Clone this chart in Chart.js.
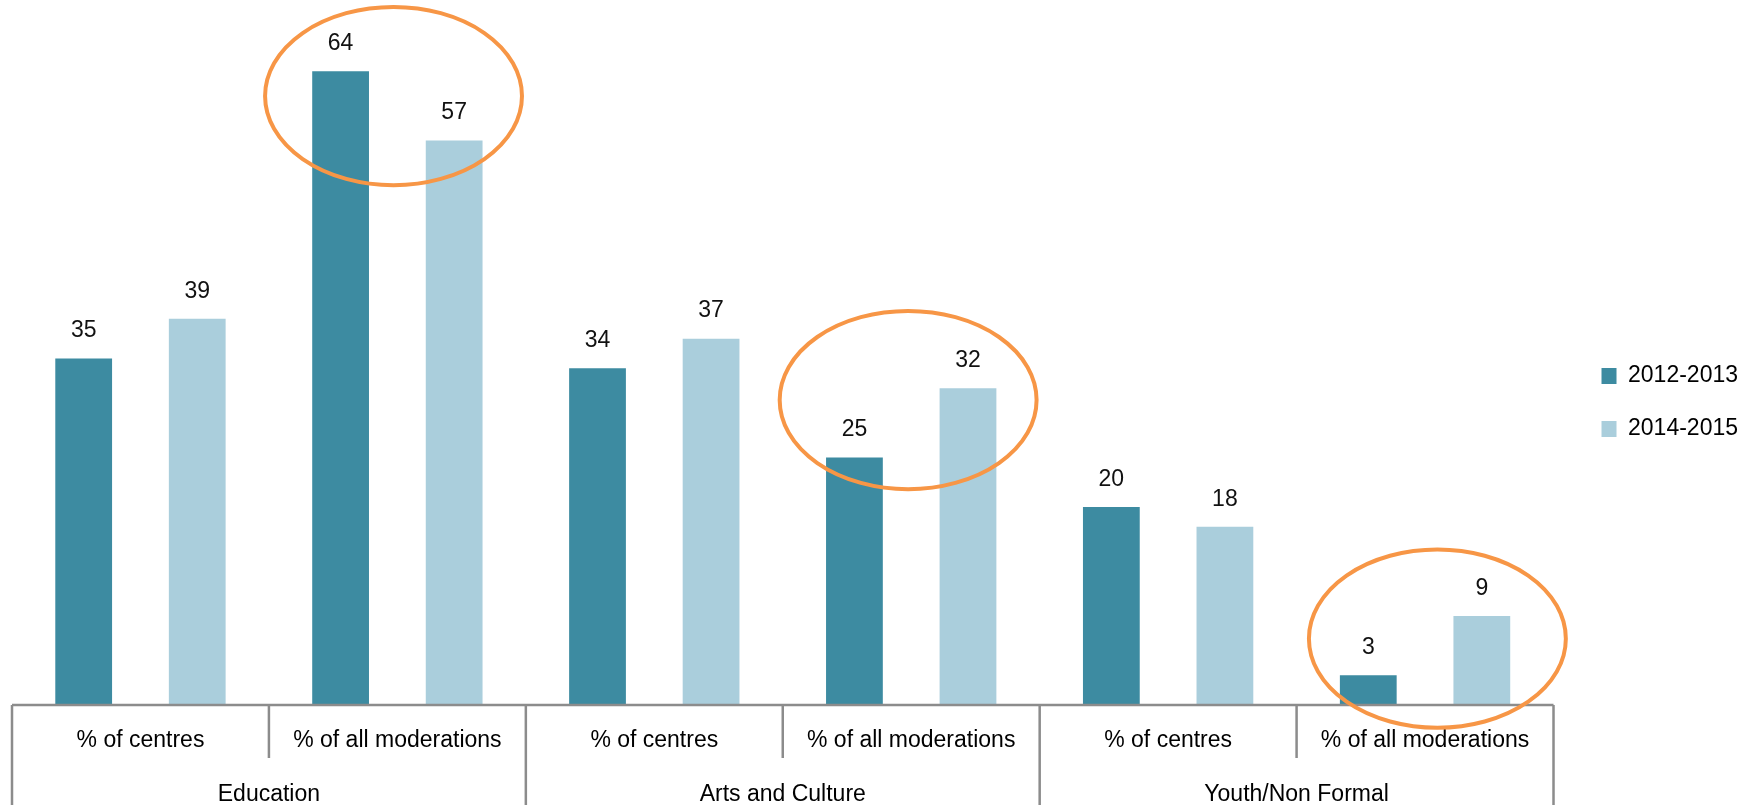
<!DOCTYPE html>
<html>
<head>
<meta charset="utf-8">
<script src="https://cdn.jsdelivr.net/npm/chart.js@4.4.0/dist/chart.umd.min.js"></script>
<style>
  html, body { margin: 0; padding: 0; background: #fff; }
</style>
</head>
<body>
<canvas id="myChart" width="1754" height="805"></canvas>
<script>
// datos del gráfico
const subLabels = ["% of centres", "% of all moderations", "% of centres", "% of all moderations", "% of centres", "% of all moderations"];
const groupLabels = ["Education", "Arts and Culture", "Youth/Non Formal"];
const values2012 = [35, 64, 34, 25, 20, 3];
const values2014 = [39, 57, 37, 32, 18, 9];

// categorías marcadas con un óvalo naranja (índice, valor del centro, desplazamiento en categorías)
const circledIndex = [1, 3, 5];
const circledCenter = [61.5, 30.8, 6.7];
const circledShift = [-0.015, -0.012, 0.048];

const darkColor = "#3D8BA1";
const lightColor = "#AACEDC";
const axisColor = "#8C8C8C";
const orange = "#F79646";

Chart.defaults.font.family = "'Liberation Sans', Arial, sans-serif";
Chart.defaults.font.size = 23;
Chart.defaults.color = "#000";

// etiquetas de valor encima de cada barra
const valueLabels = {
  id: "valueLabels",
  afterDatasetsDraw(chart) {
    const ctx = chart.ctx;
    ctx.save();
    ctx.fillStyle = "#111";
    ctx.font = "23px 'Liberation Sans', Arial, sans-serif";
    ctx.textAlign = "center";
    ctx.textBaseline = "middle";
    chart.data.datasets.forEach((ds, i) => {
      chart.getDatasetMeta(i).data.forEach((bar, j) => {
        ctx.fillText(ds.data[j], bar.x, bar.y - 27.5);
      });
    });
    ctx.restore();
  },
};

// eje con cajas y etiquetas de grupo
const axisBoxes = {
  id: "axisBoxes",
  afterDatasetsDraw(chart) {
    const ctx = chart.ctx;
    const x = chart.scales.x;
    const area = chart.chartArea;
    const bottom = chart.height;
    const n = subLabels.length;
    const edges = [];
    for (let i = 0; i <= n; i++) {
      if (i === 0) edges.push(area.left);
      else if (i === n) edges.push(area.right);
      else edges.push((x.getPixelForValue(i - 1) + x.getPixelForValue(i)) / 2);
    }
    ctx.save();
    ctx.strokeStyle = axisColor;
    ctx.lineWidth = 2.5;
    ctx.beginPath();
    ctx.moveTo(area.left, area.bottom);
    ctx.lineTo(area.right, area.bottom);
    edges.forEach((ex, i) => {
      ctx.moveTo(ex, area.bottom);
      ctx.lineTo(ex, i % 2 === 0 ? bottom : area.bottom + 53);
    });
    ctx.stroke();

    ctx.fillStyle = "#000";
    ctx.font = "23px 'Liberation Sans', Arial, sans-serif";
    ctx.textAlign = "center";
    ctx.textBaseline = "middle";
    groupLabels.forEach((g, i) => {
      ctx.fillText(g, (edges[i * 2] + edges[i * 2 + 2]) / 2, area.bottom + 90);
    });
    ctx.restore();
  },
};

// óvalos naranjas
const ellipses = {
  id: "ellipses",
  afterDraw(chart) {
    const ctx = chart.ctx;
    const x = chart.scales.x;
    const y = chart.scales.y;
    const catW = x.getPixelForValue(1) - x.getPixelForValue(0);
    const unit = y.getPixelForValue(0) - y.getPixelForValue(1);
    ctx.save();
    ctx.strokeStyle = orange;
    ctx.lineWidth = 4;
    circledIndex.forEach((idx, k) => {
      const cx = x.getPixelForValue(idx) + circledShift[k] * catW;
      const cy = y.getPixelForValue(circledCenter[k]);
      ctx.beginPath();
      ctx.ellipse(cx, cy, 0.5 * catW, 9 * unit, 0, 0, Math.PI * 2);
      ctx.stroke();
    });
    ctx.restore();
  },
};

// separa un poco la leyenda del área del gráfico
const legendGap = {
  id: "legendGap",
  afterLayout(chart) {
    if (chart.legend) {
      chart.legend.left += 18;
      chart.legend.right += 18;
    }
  },
};

const ctx = document.getElementById("myChart").getContext("2d");
new Chart(ctx, {
  type: "bar",
  data: {
    labels: subLabels,
    datasets: [
      {
        label: "2012-2013",
        data: values2012,
        backgroundColor: darkColor,
        borderWidth: 0,
      },
      {
        label: "2014-2015",
        data: values2014,
        backgroundColor: lightColor,
        borderWidth: 0,
      },
    ],
  },
  options: {
    responsive: false,
    animation: false,
    layout: { padding: { left: 12, right: 24, top: 0, bottom: 0 } },
    datasets: {
      bar: { categoryPercentage: 0.884, barPercentage: 0.5 },
    },
    scales: {
      x: {
        grid: { display: false, drawTicks: false },
        border: { display: false },
        ticks: { color: "#000", padding: 22, maxRotation: 0, autoSkip: false, font: { size: 23 } },
        afterFit: (scale) => {
          scale.height = 100;
        },
      },
      y: { display: false, min: 0, max: 71.2 },
    },
    plugins: {
      legend: {
        position: "right",
        align: "center",
        labels: { boxWidth: 15, boxHeight: 16, padding: 30, color: "#000", font: { size: 23 } },
      },
      tooltip: { enabled: false },
    },
  },
  plugins: [valueLabels, axisBoxes, ellipses, legendGap],
});
</script>
</body>
</html>
